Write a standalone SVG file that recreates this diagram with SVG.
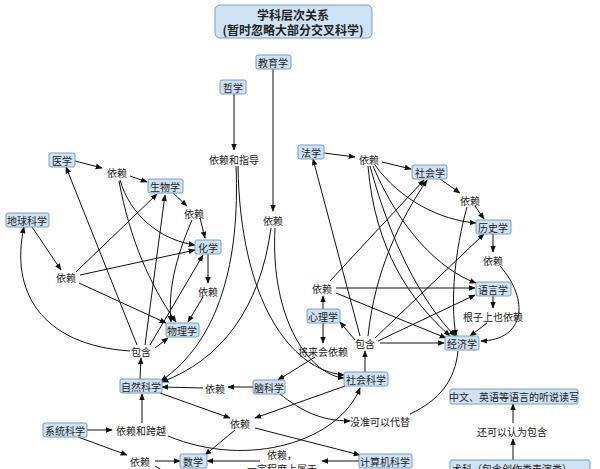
<svg xmlns="http://www.w3.org/2000/svg" width="600" height="469" viewBox="0 0 600 469">
<style>
.n rect{fill:#cfe2f3;stroke:#7a9cc4;stroke-width:1}
text{font-family:"Noto Sans CJK SC","Liberation Sans",sans-serif;font-size:10px;fill:#222;text-anchor:middle;dominant-baseline:central}
.t{font-size:12px;font-weight:bold}
#e path,#e line{stroke:#111;stroke-width:1;fill:none}
.a{marker-end:url(#ar)}
</style>
<defs><marker id="ar" viewBox="0 0 10 10" refX="9" refY="5" markerWidth="7" markerHeight="7" orient="auto"><path d="M0,1L10,5L0,9Z" fill="#111"/></marker></defs>
<rect width="600" height="469" fill="#fff"/>
<g id="e">
<line class="a" x1="234" y1="94" x2="234" y2="150"/>
<line class="a" x1="273" y1="69" x2="273" y2="211"/>
<line class="a" x1="75" y1="161" x2="102" y2="168"/>
<line class="a" x1="130" y1="176" x2="147" y2="182"/>
<path class="a" d="M120,180 C130,215 160,240 195,245"/>
<path class="a" d="M119,181 C130,240 150,285 176,322"/>
<line class="a" x1="173" y1="193" x2="187" y2="206"/>
<line class="a" x1="200" y1="218" x2="205" y2="238"/>
<path class="a" d="M192,220 C175,260 168,290 171,322"/>
<line class="a" x1="208" y1="254" x2="208" y2="283"/>
<line class="a" x1="203" y1="297" x2="188" y2="322"/>
<line class="a" x1="32" y1="227" x2="61" y2="270"/>
<line class="a" x1="76" y1="272" x2="157" y2="194"/>
<line class="a" x1="80" y1="275" x2="195" y2="250"/>
<line class="a" x1="79" y1="283" x2="166" y2="323"/>
<line class="a" x1="137" y1="345" x2="66" y2="167"/>
<line class="a" x1="145" y1="345" x2="165" y2="195"/>
<line class="a" x1="150" y1="345" x2="203" y2="255"/>
<line class="a" x1="155" y1="348" x2="168" y2="338"/>
<path class="a" d="M130,351 C40,345 10,290 24,227"/>
<line class="a" x1="140" y1="379" x2="141" y2="358"/>
<path class="a" d="M236,166 C240,260 220,340 161,381"/>
<path class="a" d="M238,166 C240,300 290,370 344,375"/>
<path class="a" d="M271,228 C260,310 220,360 162,382"/>
<path class="a" d="M275,228 C270,320 310,375 344,378"/>
<line class="a" x1="203" y1="388" x2="162" y2="387"/>
<line class="a" x1="253" y1="387" x2="228" y2="387"/>
<line class="a" x1="315" y1="357" x2="278" y2="380"/>
<line class="a" x1="323" y1="323" x2="323" y2="343"/>
<line class="a" x1="323" y1="309" x2="323" y2="296"/>
<line class="a" x1="355" y1="340" x2="340" y2="322"/>
<line class="a" x1="365" y1="372" x2="365" y2="351"/>
<path class="a" d="M280,394 C300,410 320,421 350,421"/>
<path d="M410,414 C440,400 455,380 458,351"/>
<line class="a" x1="160" y1="393" x2="230" y2="418"/>
<line class="a" x1="345" y1="386" x2="255" y2="418"/>
<line class="a" x1="235" y1="430" x2="205" y2="455"/>
<line class="a" x1="255" y1="428" x2="360" y2="455"/>
<line class="a" x1="142" y1="423" x2="142" y2="394"/>
<line class="a" x1="86" y1="430" x2="112" y2="430"/>
<path class="a" d="M168,436 C250,470 340,440 360,388"/>
<line class="a" x1="78" y1="437" x2="127" y2="455"/>
<line class="a" x1="155" y1="461" x2="180" y2="461"/>
<line x1="155" y1="466" x2="165" y2="472"/>
<line class="a" x1="260" y1="461" x2="207" y2="461"/>
<line class="a" x1="359" y1="461" x2="322" y2="461"/>
<line class="a" x1="513" y1="423" x2="513" y2="404"/>
<line class="a" x1="513" y1="460" x2="513" y2="439"/>
<line class="a" x1="324" y1="153" x2="355" y2="157"/>
<line class="a" x1="382" y1="162" x2="411" y2="169"/>
<path class="a" d="M375,165 C400,200 440,220 476,223"/>
<path class="a" d="M373,166 C400,230 440,270 476,283"/>
<path class="a" d="M370,166 C390,240 420,300 455,336"/>
<path class="a" d="M368,166 C375,250 410,300 450,336"/>
<line class="a" x1="440" y1="179" x2="460" y2="193"/>
<line class="a" x1="475" y1="206" x2="484" y2="219"/>
<path class="a" d="M467,207 C455,250 450,300 456,336"/>
<line class="a" x1="493" y1="234" x2="493" y2="252"/>
<path class="a" d="M500,266 C530,300 525,340 481,341"/>
<line class="a" x1="493" y1="296" x2="493" y2="308"/>
<line class="a" x1="487" y1="323" x2="470" y2="336"/>
<line class="a" x1="330" y1="281" x2="424" y2="180"/>
<line class="a" x1="336" y1="288" x2="475" y2="288"/>
<line class="a" x1="336" y1="293" x2="446" y2="338"/>
<line class="a" x1="360" y1="336" x2="313" y2="159"/>
<path class="a" d="M368,336 C375,270 400,220 427,180"/>
<line class="a" x1="375" y1="338" x2="484" y2="234"/>
<line class="a" x1="378" y1="341" x2="475" y2="295"/>
<line class="a" x1="380" y1="343" x2="444" y2="343"/>
</g>
<g id="title" class="n"><rect x="215" y="5" width="157" height="33" rx="5"/><text class="t" x="293" y="14">学科层次关系</text><text class="t" x="293" y="29">(暂时忽略大部分交叉科学)</text></g>
<g id="jiaoyu" class="n"><rect x="256" y="55" width="35" height="14" rx="2"/><text x="273" y="62">教育学</text></g>
<g id="zhexue" class="n"><rect x="220" y="80" width="26" height="14" rx="2"/><text x="233" y="87">哲学</text></g>
<g id="yixue" class="n"><rect x="49" y="153" width="26" height="14" rx="2"/><text x="62" y="160">医学</text></g>
<g id="shengwu" class="n"><rect x="148" y="179" width="35" height="14" rx="2"/><text x="165" y="186">生物学</text></g>
<g id="diqiu" class="n"><rect x="6" y="213" width="43" height="14" rx="2"/><text x="27" y="220">地球科学</text></g>
<g id="huaxue" class="n"><rect x="195" y="240" width="26" height="14" rx="2"/><text x="208" y="247">化学</text></g>
<g id="wuli" class="n"><rect x="166" y="323" width="33" height="14" rx="2"/><text x="182" y="330">物理学</text></g>
<g id="ziran" class="n"><rect x="120" y="379" width="42" height="14" rx="2"/><text x="141" y="386">自然科学</text></g>
<g id="nao" class="n"><rect x="253" y="380" width="32" height="14" rx="2"/><text x="269" y="387">脑科学</text></g>
<g id="shehuikx" class="n"><rect x="344" y="372" width="44" height="14" rx="2"/><text x="366" y="379">社会科学</text></g>
<g id="xinli" class="n"><rect x="307" y="309" width="33" height="14" rx="2"/><text x="323" y="316">心理学</text></g>
<g id="faxue" class="n"><rect x="298" y="145" width="26" height="14" rx="2"/><text x="311" y="152">法学</text></g>
<g id="shehui" class="n"><rect x="412" y="165" width="35" height="14" rx="2"/><text x="430" y="172">社会学</text></g>
<g id="lishi" class="n"><rect x="476" y="220" width="35" height="14" rx="2"/><text x="493" y="227">历史学</text></g>
<g id="yuyan" class="n"><rect x="476" y="282" width="35" height="14" rx="2"/><text x="493" y="289">语言学</text></g>
<g id="jingji" class="n"><rect x="445" y="336" width="34" height="14" rx="2"/><text x="462" y="343">经济学</text></g>
<g id="tingshuo" class="n"><rect x="450" y="389" width="128" height="15" rx="2"/><text x="514" y="396">中文、英语等语言的听说读写</text></g>
<g id="shuke" class="n"><rect x="450" y="460" width="140" height="15" rx="2"/><text x="452" y="468" style="text-anchor:start">术科（包含创作类表演类）。</text></g>
<g id="xitong" class="n"><rect x="43" y="423" width="44" height="14" rx="2"/><text x="65" y="430">系统科学</text></g>
<g id="shuxue" class="n"><rect x="180" y="454" width="27" height="14" rx="2"/><text x="193" y="461">数学</text></g>
<g id="jisuanji" class="n"><rect x="359" y="454" width="53" height="14" rx="2"/><text x="385" y="461">计算机科学</text></g>
<g id="labels">
<text x="234" y="159">依赖和指导</text><text x="273" y="220">依赖</text>
<text x="117" y="172">依赖</text><text x="194" y="213">依赖</text><text x="66" y="277">依赖</text><text x="208" y="291">依赖</text>
<text x="141" y="351">包含</text><text x="215" y="388">依赖</text><text x="322" y="288">依赖</text><text x="323" y="351">将来会依赖</text>
<text x="365" y="343">包含</text><text x="369" y="159">依赖</text><text x="470" y="200">依赖</text><text x="493" y="260">依赖</text>
<text x="493" y="316">根子上也依赖</text><text x="380" y="421">没准可以代替</text><text x="512" y="431">还可以认为包含</text>
<text x="141" y="430">依赖和跨越</text><text x="240" y="423">依赖</text><text x="140" y="461">依赖</text>
<text x="282" y="454">依赖，</text><text x="282" y="468">一定程度上属于</text>
</g>
</svg>
